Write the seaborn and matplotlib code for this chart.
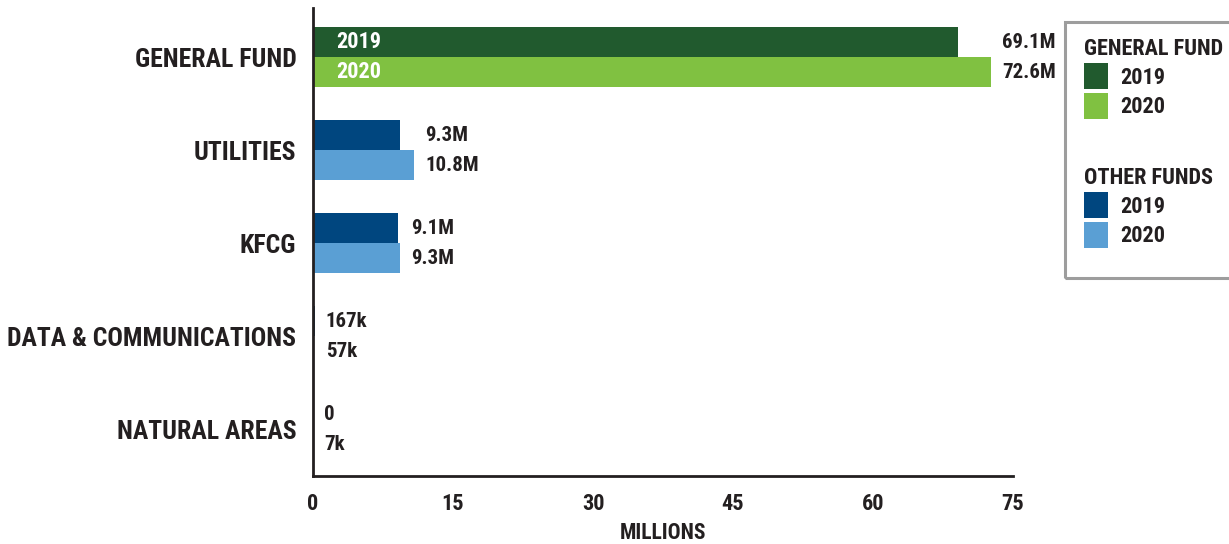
import pandas as pd
import matplotlib.pyplot as plt
import seaborn as sns
from matplotlib.patches import Patch, Rectangle

# data (millions)
funds = ["GENERAL FUND", "UTILITIES", "KFCG", "DATA & COMMUNICATIONS", "NATURAL AREAS"]
values_2019 = [69.1, 9.3, 9.1, 0.167, 0.0]
values_2020 = [72.6, 10.8, 9.3, 0.057, 0.007]
labels_2019 = ["69.1M", "9.3M", "9.1M", "167k", "0"]
labels_2020 = ["72.6M", "10.8M", "9.3M", "57k", "7k"]
x_ticks = [0, 15, 30, 45, 60, 75]

GF_2019, GF_2020 = "#215a2e", "#80c141"
OF_2019, OF_2020 = "#00467f", "#5a9fd4"
TXT = "#231f20"

sns.set_style("white")
# condensed bold look; DejaVu Sans Condensed as fallback
plt.rcParams["font.family"] = ["Roboto Condensed", "DejaVu Sans"]
plt.rcParams["font.stretch"] = "condensed"
plt.rcParams["font.weight"] = "bold"

df = pd.DataFrame({
    "fund": funds * 2,
    "year": ["2019"] * len(funds) + ["2020"] * len(funds),
    "value": values_2019 + values_2020,
})

fig = plt.figure(figsize=(12.29, 5.44), dpi=100)
ax = fig.add_axes([0.2547, 0.125, 0.5696, 0.86])

sns.barplot(data=df, x="value", y="fund", hue="year", orient="h", width=0.645,
            palette=[OF_2019, OF_2020], saturation=1, errorbar=None,
            legend=False, ax=ax)

# recolour general fund bars green
for cont, gf_col in zip(ax.containers, [GF_2019, GF_2020]):
    for name, bar in zip(funds, cont):
        bar.set_edgecolor("none")
        if name == "GENERAL FUND":
            bar.set_facecolor(gf_col)

# value labels, left aligned after the longer bar of each group
for i, name in enumerate(funds):
    xpos = max(values_2019[i], values_2020[i])
    for cont, labs in zip(ax.containers, [labels_2019, labels_2020]):
        bar = cont[i]
        yc = bar.get_y() + bar.get_height() / 2
        ax.annotate(labs[i], (xpos, yc), xytext=(8, 0), textcoords="offset points",
                    ha="left", va="center", fontsize=15, fontweight="bold", color=TXT)

# year labels inside general fund bars
for cont, yr in zip(ax.containers, ["2019", "2020"]):
    bar = cont[0]
    ax.annotate(yr, (0, bar.get_y() + bar.get_height() / 2), xytext=(17, 0),
                textcoords="offset points", ha="left", va="center",
                fontsize=16, fontweight="bold", color="white")

ax.set_xlim(0, 75)
ax.set_ylim(4.505, -0.527)
ax.set_xticks(x_ticks)
ax.set_xticklabels([str(t) for t in x_ticks], fontsize=16, fontweight="bold", color=TXT)
ax.set_yticks(range(len(funds)))
ax.set_yticklabels(funds, fontsize=18.5, fontweight="bold", color=TXT)
ax.tick_params(axis="x", direction="in", length=16, width=1.6, pad=12, color=TXT)
ax.tick_params(axis="y", length=0, pad=12)
ax.set_xlabel("MILLIONS", fontsize=15.5, fontweight="bold", color=TXT, labelpad=5)
ax.set_ylabel("")
sns.despine(ax=ax)
for s in ["left", "bottom"]:
    ax.spines[s].set_linewidth(2)
    ax.spines[s].set_color(TXT)

# legend box with two groups
fig.add_artist(Rectangle((1065 / 1229, 1 - 278 / 544), 0.2, 256 / 544,
                         transform=fig.transFigure, fill=False,
                         edgecolor="#9d9d9d", linewidth=2.2))
leg_font = {"size": 16, "weight": "bold"}
for title, cols, top in [("GENERAL FUND", [GF_2019, GF_2020], 31),
                         ("OTHER FUNDS", [OF_2019, OF_2020], 160)]:
    handles = [Patch(facecolor=c, edgecolor="none") for c in cols]
    leg = fig.legend(handles, ["2019", "2020"], title=title, loc="upper left",
                     bbox_to_anchor=(1077 / 1229, 1 - top / 544), frameon=False,
                     alignment="left", prop=leg_font, title_fontproperties=leg_font,
                     handlelength=1.1, handleheight=1.45, handletextpad=0.55,
                     labelspacing=0.15, borderaxespad=0, borderpad=0.3)
    for t in leg.get_texts():
        t.set_color(TXT)
    leg.get_title().set_color(TXT)

fig.savefig("out.png", dpi=100)
